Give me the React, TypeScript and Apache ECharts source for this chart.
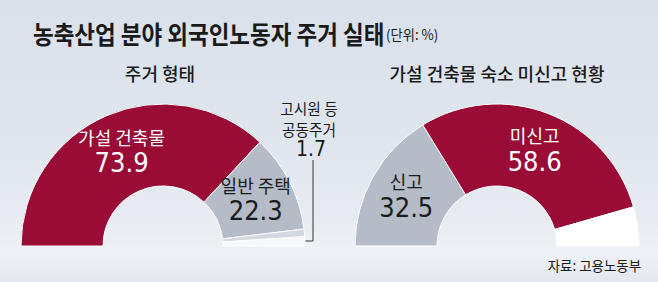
import React, { useEffect, useRef } from 'react';
import * as echarts from 'echarts';

const titleText = '농축산업 분야 외국인노동자 주거 실태';
const unitText = '(단위: %)';
const sourceText = '자료: 고용노동부';

const housingTitle = '주거 형태';
const housingCategories = ['가설 건축물', '일반 주택', '고시원 등 공동주거'];
const housingValues = [73.9, 22.3, 1.7];

const reportTitle = '가설 건축물 숙소 미신고 현황';
const reportCategories = ['신고', '미신고'];
const reportValues = [32.5, 58.6];

const RED = '#9a0b36';
const GREY = '#b5bcc8';
const LIGHT = '#d3d8e0';
const BLANK = '#f7f8fa';
const WHITE = '#ffffff';
const DARK = '#1c1c1c';
const FONT = '"Noto Sans CJK KR", "Noto Sans", sans-serif';
const NUMFONT = '"Liberation Sans Narrow", "DejaVu Sans Condensed", "Noto Sans CJK KR", sans-serif';

const sum = (a: number[]) => a.reduce((s, v) => s + v, 0);
const rest = (a: number[]) => Math.round((100 - sum(a)) * 10) / 10;

const innerLabel = (color: string) => ({
  show: true,
  position: 'inside',
  formatter: (p: any) => `{n|${p.name}}\n{v|${p.value}}`,
  rich: {
    n: { fontSize: 18, color, lineHeight: 24, fontFamily: FONT },
    v: { fontSize: 27, color, lineHeight: 28, fontFamily: NUMFONT },
  },
});

const splitLast = (s: string) => {
  const i = s.lastIndexOf(' ');
  return [s.slice(0, i), s.slice(i + 1)];
};

const commonPie = {
  type: 'pie',
  radius: [60, 142],
  startAngle: 180,
  endAngle: 360,
  clockwise: true,
  avoidLabelOverlap: false,
  silent: true,
  itemStyle: { borderColor: '#ffffff', borderWidth: 1 },
  label: { show: false },
  labelLine: { show: false },
  emphasis: { disabled: true },
};

const textEl = (
  text: string,
  x: number,
  y: number,
  fontSize: number,
  align: string,
  scaleX: number,
  fontWeight: string | number = 'normal',
  fontFamily: string = FONT,
) => ({
  type: 'text',
  x,
  y,
  scaleX,
  silent: true,
  style: {
    text,
    fontSize,
    fontWeight,
    fontFamily,
    fill: '#1a1a1a',
    textAlign: align,
    align,
    textVerticalAlign: 'middle',
    verticalAlign: 'middle',
  },
});

export default function App() {
  const ref = useRef<HTMLDivElement>(null);

  useEffect(() => {
    if (!ref.current) return;
    const chart = echarts.init(ref.current, null, { renderer: 'svg' });

    const housingColors = [RED, GREY, LIGHT];
    const housingData: any[] = housingCategories.map((name, i) => ({
      name,
      value: housingValues[i],
      itemStyle: { color: housingColors[i] },
      label: i === 0 ? innerLabel(WHITE) : i === 1 ? innerLabel(DARK) : { show: false },
    }));
    housingData.push({
      name: '',
      value: rest(housingValues),
      itemStyle: { color: BLANK },
      label: { show: false },
    });

    const reportColors = [GREY, RED];
    const reportData: any[] = reportCategories.map((name, i) => ({
      name,
      value: reportValues[i],
      itemStyle: { color: reportColors[i] },
      label: innerLabel(i === 1 ? WHITE : DARK),
    }));
    reportData.push({
      name: '',
      value: rest(reportValues),
      itemStyle: { color: WHITE },
      label: { show: false },
    });

    // callout for the thin slice (고시원 등 공동주거)
    const [l1, l2] = splitLast(housingCategories[2]);

    chart.setOption({
      animation: false,
      backgroundColor: 'transparent',
      graphic: [
        textEl(titleText, 33, 33, 25, 'left', 0.9, 'bold'),
        textEl(unitText, 386, 34, 14, 'left', 0.95),
        textEl(housingTitle, 160, 73, 18, 'center', 1, 500),
        textEl(reportTitle, 497, 73, 18, 'center', 1, 500),
        textEl(sourceText, 641, 265, 14, 'right', 0.96),
        textEl(l1, 309, 108, 15.5, 'center', 0.95),
        textEl(l2, 309, 129, 15.5, 'center', 0.95),
        textEl(String(housingValues[2]), 311, 149, 21, 'center', 1, 'normal', NUMFONT),
        {
          type: 'polyline',
          silent: true,
          shape: {
            points: [
              [303, 241],
              [313, 241],
              [313, 160],
            ],
          },
          style: { stroke: '#333333', lineWidth: 1, fill: 'none' },
        },
      ],
      series: [
        { ...commonPie, name: housingTitle, center: [163, 246], data: housingData },
        { ...commonPie, name: reportTitle, center: [497, 246], data: reportData },
      ],
    });

    return () => chart.dispose();
  }, []);

  return (
    <div
      style={{
        position: 'fixed',
        left: 0,
        top: 0,
        width: 658,
        height: 282,
        background:
          'linear-gradient(180deg, #dae1ea 0%, #dfe5ed 45%, #e7ebf1 75%, #eef1f5 90%, #e4e8ee 100%)',
      }}
    >
      <div ref={ref} style={{ width: 658, height: 282 }} />
    </div>
  );
}
